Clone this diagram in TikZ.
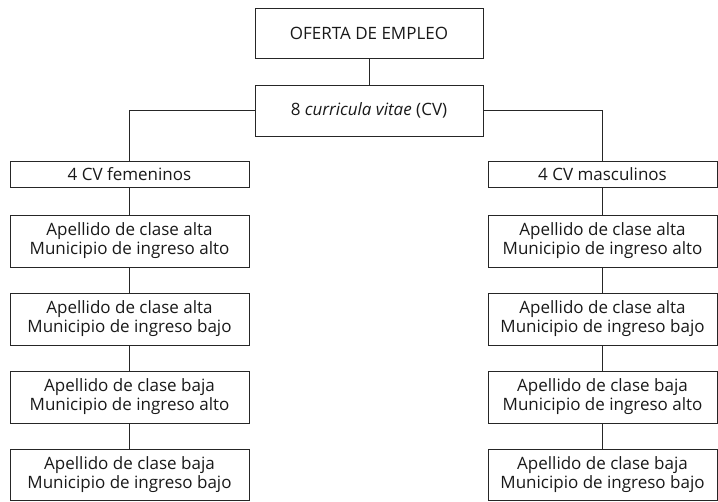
\documentclass[tikz,border=0pt]{standalone}
\usepackage{fontspec}
\setmainfont{Open Sans}
\begin{document}
\begin{tikzpicture}[x=1pt,y=-1pt,
	caja/.style={draw=black!85,line width=0.9pt,text=black!90,font=\fontsize{17}{19}\selectfont,align=center,inner sep=0pt},
	linea/.style={draw=black!85,line width=0.9pt}]
	\useasboundingbox (0,0) rectangle (718,501);
	%Oferta
	\node [caja,minimum width=228,minimum height=50] (oferta) at (369,33) {OFERTA DE EMPLEO};
	\node [caja,minimum width=228,minimum height=51] (cv) at (369,110.5) {8 \textit{curricula vitae} (CV)};
	%CV femeninos
	\node [caja,minimum width=239,minimum height=26] (fem) at (129.5,174) {4 CV femeninos};
	\node [caja,minimum width=239,minimum height=52] (fema) at (129.5,241) {Apellido de clase alta\\Municipio de ingreso alto};
	\node [caja,minimum width=239,minimum height=52] (femb) at (129.5,319) {Apellido de clase alta\\Municipio de ingreso bajo};
	\node [caja,minimum width=239,minimum height=52] (femc) at (129.5,397) {Apellido de clase baja\\Municipio de ingreso alto};
	\node [caja,minimum width=239,minimum height=51] (femd) at (129.5,474.5) {Apellido de clase baja\\Municipio de ingreso bajo};
	%CV masculinos
	\node [caja,minimum width=229,minimum height=26] (masc) at (602.5,174) {4 CV masculinos};
	\node [caja,minimum width=229,minimum height=52] (masca) at (602.5,241) {Apellido de clase alta\\Municipio de ingreso alto};
	\node [caja,minimum width=229,minimum height=52] (mascb) at (602.5,319) {Apellido de clase alta\\Municipio de ingreso bajo};
	\node [caja,minimum width=229,minimum height=52] (mascc) at (602.5,397) {Apellido de clase baja\\Municipio de ingreso alto};
	\node [caja,minimum width=229,minimum height=51] (mascd) at (602.5,474.5) {Apellido de clase baja\\Municipio de ingreso bajo};
	%Lineas
	\draw [linea] (oferta) -- (cv);
	\draw [linea] (cv.west) -| (fem.north);
	\draw [linea] (cv.east) -| (masc.north);
	\draw [linea] (fem) -- (fema) -- (femb) -- (femc) -- (femd);
	\draw [linea] (masc) -- (masca) -- (mascb) -- (mascc) -- (mascd);
\end{tikzpicture}
\end{document}
